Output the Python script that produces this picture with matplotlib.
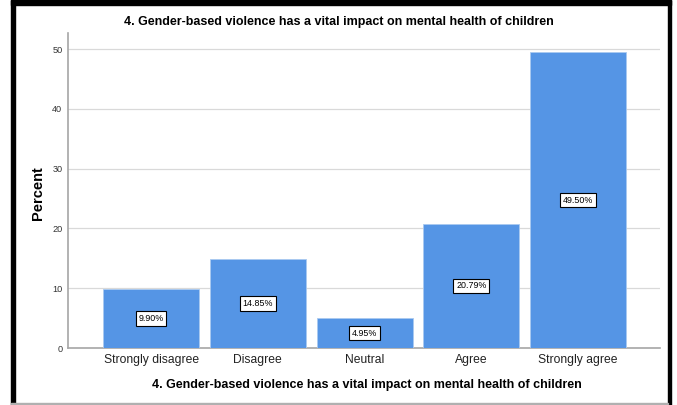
import numpy as np
import matplotlib
matplotlib.use("Agg")
import matplotlib.pyplot as plt
from matplotlib.patches import Rectangle

# data
categories = ["Strongly disagree", "Disagree", "Neutral", "Agree", "Strongly agree"]
percents = [9.90, 14.85, 4.95, 20.79, 49.50]
yticks = [0, 10, 20, 30, 40, 50]
title = "4. Gender-based violence has a vital impact on mental health of children"

plt.rcParams['font.family'] = ['Liberation Sans', 'DejaVu Sans']

fig = plt.figure(figsize=(6.77, 4.05), dpi=100)
ax = fig.add_axes([0.1004, 0.1407, 0.8746, 0.7778])

x = np.arange(len(categories))
ax.bar(x, percents, width=0.9, color="#5595e5", edgecolor="#a9c9f0", linewidth=0.6, zorder=3)

# value boxes in the middle of each bar
for xi, p in zip(x, percents):
    ax.text(xi, p / 2, "{:.2f}%".format(p), ha="center", va="center", fontsize=6.4,
            color="black", zorder=4,
            bbox=dict(boxstyle="square,pad=0.3", fc="white", ec="black", lw=0.8))

ax.set_xlim(-0.78, 4.77)
ax.set_ylim(0, 52.7)
ax.set_xticks(x)
ax.set_xticklabels(categories, fontsize=8.7, color="#222222")
ax.set_yticks(yticks)
ax.set_yticklabels([str(t) for t in yticks], fontsize=6.6, color="#333333")
ax.tick_params(length=0)
ax.tick_params(axis="x", pad=4)
ax.tick_params(axis="y", pad=4)
ax.yaxis.grid(True, color="#d9d9d9", linewidth=0.9, zorder=0)
ax.set_axisbelow(True)

for s in ["top", "right"]:
    ax.spines[s].set_visible(False)
for s in ["left", "bottom"]:
    ax.spines[s].set_color("#a6a6a6")
    ax.spines[s].set_linewidth(1.2)

fig.text(0.5, 0.946, title, ha="center", va="center", fontsize=9, fontweight="bold")
fig.text(0.5415, 0.049, title, ha="center", va="center", fontsize=9, fontweight="bold")
fig.text(0.056, 0.522, "Percent", ha="center", va="center", rotation=90, fontsize=10.5,
         fontweight="bold")

# frame around the screenshot
W, H = 677.0, 405.0
fig.patches.append(Rectangle((11 / W, 0), 4 / W, 1, transform=fig.transFigure,
                             color="black", zorder=10))
fig.patches.append(Rectangle((11 / W, 1 - 5 / H), 660 / W, 5 / H, transform=fig.transFigure,
                             color="black", zorder=10))
fig.patches.append(Rectangle((668 / W, 0), 3 / W, 1, transform=fig.transFigure,
                             color="black", zorder=10))
fig.patches.append(Rectangle((11 / W, 1 / H), 657 / W, 1 / H, transform=fig.transFigure,
                             color="#b0b0b0", zorder=10))

plt.savefig("out.png", dpi=100)
plt.close()
